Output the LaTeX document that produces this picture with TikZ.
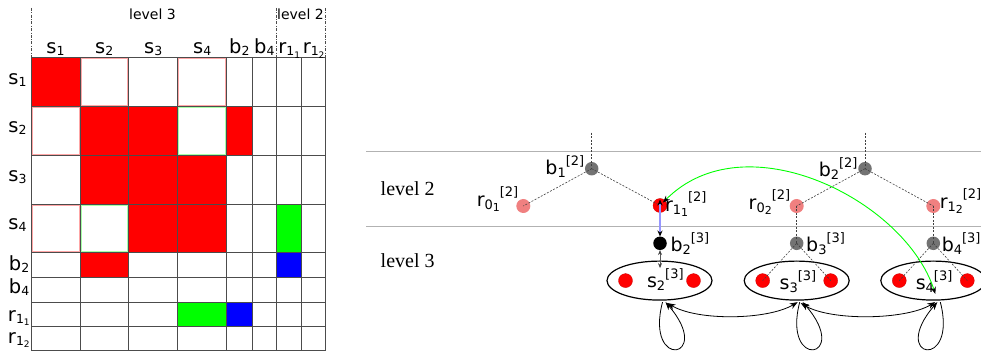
\documentclass[tikz,border=0pt]{standalone}
\usepackage{fontspec}
\setmainfont{DejaVu Sans}
\newfontfamily\serifrm{Liberation Serif}
\usetikzlibrary{arrows.meta,calc,shapes.geometric}
\newcommand\mlab[2]{#1\raisebox{-2pt}{\fontsize{12.5}{12.5}\selectfont #2}}
\newcommand\mlabb[3]{#1\raisebox{-2pt}{\fontsize{12.5}{12.5}\selectfont #2}\raisebox{-4.5pt}{\fontsize{9}{9}\selectfont #3}}
\newcommand\rlab[3]{#1\raisebox{-3.3pt}{\fontsize{13}{13}\selectfont #2}\raisebox{9pt}{\fontsize{13}{13}\selectfont #3}}
\newcommand\rlabb[4]{#1\raisebox{-3pt}{\fontsize{13}{13}\selectfont #2}\raisebox{-5pt}{\fontsize{11}{11}\selectfont #3}\raisebox{10pt}{\fontsize{13}{13}\selectfont #4}}
\definecolor{pinknode}{RGB}{240,128,128}
\definecolor{lblue}{RGB}{150,150,255}
\begin{document}
\begin{tikzpicture}[x=1pt,y=-1pt,
  every node/.style={inner sep=0pt,outer sep=0pt},
  mtxt/.style={font=\fontsize{19.5}{19.5}\selectfont,anchor=base},
  rowl/.style={font=\fontsize{19.5}{19.5}\selectfont,anchor=base west},
  hdr/.style={font=\fontsize{14}{14}\selectfont,anchor=base},
  gridln/.style={draw=black!70,line width=0.8pt},
  ddot/.style={draw=black!70,line width=0.7pt,dash pattern=on 3pt off 1.5pt on 0.7pt off 1.5pt},
  lvl/.style={font=\serifrm\fontsize{20}{20}\selectfont,anchor=base west},
  rl/.style={font=\fontsize{19}{19}\selectfont},
  gnode/.style={circle,fill=black!55,minimum size=13.5pt},
  pnode/.style={circle,fill=pinknode,minimum size=14pt},
  rnode/.style={circle,fill=red,draw=red!80!black,line width=0.3pt,minimum size=14pt},
  knode/.style={circle,fill=black,minimum size=13.5pt},
  ell/.style={ellipse,draw=black,line width=1.2pt,minimum width=105pt,minimum height=39pt},
  dsh/.style={draw=black!75,line width=0.6pt,dash pattern=on 2pt off 1.5pt},
  hl/.style={draw=black!30,line width=0.8pt},
  bkarr/.style={draw=black,line width=0.8pt,{Stealth[length=8pt,width=6pt]}-{Stealth[length=8pt,width=6pt]}},
  lparr/.style={draw=black,line width=0.8pt,-{Stealth[length=8pt,width=6pt]}},
  grarr/.style={draw=green,line width=0.9pt,{Stealth[black,length=7pt,width=5.5pt]}-{Stealth[black,length=7pt,width=5.5pt]}},
  blarr/.style={draw=lblue,line width=1.1pt,{Stealth[black,length=6pt,width=5pt]}-{Stealth[black,length=6pt,width=5pt]}},
  gyarr/.style={draw=black!65,line width=0.7pt,{Stealth[black!75,length=5pt,width=4pt]}-{Stealth[black!75,length=5pt,width=4pt]}}
]
\useasboundingbox (0,0) rectangle (981,352);

% ---------------- matrix ----------------
\fill[red] (31,57.3) rectangle (80,106.7);
\fill[red] (80,106.7) rectangle (177.7,155.3);
\fill[red] (226.7,106.7) rectangle (252,155.3);
\fill[red] (80,155.3) rectangle (226.7,204);
\fill[red] (128.7,204) rectangle (226.7,252.7);
\fill[red] (80,252.7) rectangle (128.7,277.3);
\fill[green] (276.7,204) rectangle (301.7,252.7);
\fill[green] (177.7,302.7) rectangle (226.7,326.7);
\fill[blue] (276.7,252.7) rectangle (301.7,277.3);
\fill[blue] (226.7,302.7) rectangle (252,326.7);
\draw[red!35,line width=0.7pt] (81,58.3) rectangle (127.7,105.7);
\draw[red!35,line width=0.7pt] (178.7,58.3) rectangle (225.7,105.7);
\draw[red!35,line width=0.7pt] (32,107.7) rectangle (79,154.3);
\draw[red!35,line width=0.7pt] (32,205) rectangle (79,251.7);
\draw[green!35,line width=0.7pt] (178.7,107.7) rectangle (225.7,154.3);
\draw[green!35,line width=0.7pt] (81,205) rectangle (127.7,251.7);
\foreach \x in {31,80,128.7,177.7,226.7,252,276.7,301.7,325.5}
  \draw[gridln] (\x,57.3) -- (\x,350.5);
\foreach \y in {57.3,106.7,155.3,204,252.7,277.3,302.7,326.7,350.5}
  \draw[gridln] (31,\y) -- (325.5,\y);
\draw[ddot] (31,8) -- (31,57.3);
\draw[ddot] (276.7,8) -- (276.7,57.3);
\draw[ddot] (325.5,8) -- (325.5,57.3);
\node[hdr] (h3) at (152.5,20) {level 3};
\node[hdr] (h2) at (300.5,20) {level 2};
\node[mtxt] (cs1) at (55.5,54) {\mlab{s}{1}};
\node[mtxt] (cs2) at (104.3,54) {\mlab{s}{2}};
\node[mtxt] (cs3) at (153.2,54) {\mlab{s}{3}};
\node[mtxt] (cs4) at (202.2,54) {\mlab{s}{4}};
\node[mtxt] (cb2) at (239.3,54) {\mlab{b}{2}};
\node[mtxt] (cb4) at (264.3,54) {\mlab{b}{4}};
\node[mtxt] (cr11) at (289.2,54) {\mlabb{r}{1}{1}};
\node[mtxt] (cr12) at (313.6,54) {\mlabb{r}{1}{2}};
\node[rowl] (rs1) at (8.5,85) {\mlab{s}{1}};
\node[rowl] (rs2) at (8.5,133) {\mlab{s}{2}};
\node[rowl] (rs3) at (8.5,181.7) {\mlab{s}{3}};
\node[rowl] (rs4) at (8.5,230) {\mlab{s}{4}};
\node[rowl] (rb2) at (9,270) {\mlab{b}{2}};
\node[rowl] (rb4) at (9,293) {\mlab{b}{4}};
\node[rowl] (rr11) at (8,321) {\mlabb{r}{1}{1}};
\node[rowl] (rr12) at (8,343) {\mlabb{r}{1}{2}};

% ---------------- hierarchy ----------------
\draw[hl] (366,151.7) -- (981,151.7);
\draw[hl] (366,226.7) -- (981,226.7);
\node[lvl] (lv2) at (380.7,196) {level 2};
\node[lvl] (lv3) at (380.7,267.7) {level 3};

\node[gnode] (b1) at (591.7,168.7) {};
\node[pnode] (r01) at (523.3,206) {};
\node[rnode] (r11) at (660,205.5) {};
\node[knode] (b23) at (660,243.3) {};
\node[gnode] (b22) at (865,168.7) {};
\node[pnode] (r02) at (796.7,206) {};
\node[pnode] (r12) at (933.3,206) {};
\node[gnode] (b3) at (796.7,243.3) {};
\node[gnode] (b4) at (933.3,243.3) {};

\node[ell] (s2) at (659.5,280.6) {};
\node[ell] (s3) at (796.7,280.6) {};
\node[ell] (s4) at (933.3,280.6) {};
\node[rnode] (d21) at (625.5,280.6) {};
\node[rnode] (d22) at (693.5,280.6) {};
\node[rnode] (d31) at (762.7,280.6) {};
\node[rnode] (d32) at (830.7,280.6) {};
\node[rnode] (d41) at (899.3,280.6) {};
\node[rnode] (d42) at (967.3,280.6) {};

\coordinate (b1top) at (591.7,132.7);
\coordinate (b22top) at (865,132.7);

\draw[dsh] (b1top) -- (b1.center);
\draw[dsh] (b22top) -- (b22.center);
\draw[dsh] (b1.center) -- (r01.center);
\draw[dsh] (b1.center) -- (r11.center);
\draw[dsh] (b22.center) -- (r02.center);
\draw[dsh] (b22.center) -- (r12.center);
\draw[dsh] (r02.center) -- (b3.center);
\draw[dsh] (r12.center) -- (b4.center);
\draw[dsh] (b3.center) -- (d31.center);
\draw[dsh] (b3.center) -- (d32.center);
\draw[dsh] (b4.center) -- (d41.center);
\draw[dsh] (b4.center) -- (d42.center);

\node[rl,anchor=base east] (lb1) at ($(b1)+(-7.5,6)$) {\rlab{b}{1}{[2]}};
\node[rl,anchor=base east] (lr01) at ($(r01)+(-5,1)$) {\rlabb{r}{0}{1}{[2]}};
\node[rl,anchor=base west] (lr11) at ($(r11)+(5,6)$) {\rlabb{r}{1}{1}{[2]}};
\node[rl,anchor=base west] (lb23) at ($(b23)+(10.5,8.4)$) {\rlab{b}{2}{[3]}};
\node[rl,anchor=base east] (lb22) at ($(b22)+(-7.5,7.5)$) {\rlab{b}{2}{[2]}};
\node[rl,anchor=base east] (lr02) at ($(r02)+(-6.5,4)$) {\rlabb{r}{0}{2}{[2]}};
\node[rl,anchor=base west] (lr12) at ($(r12)+(6.5,2.5)$) {\rlabb{r}{1}{2}{[2]}};
\node[rl,anchor=base west] (lb3) at ($(b3)+(9.5,8.4)$) {\rlab{b}{3}{[3]}};
\node[rl,anchor=base west] (lb4) at ($(b4)+(8.5,8.4)$) {\rlab{b}{4}{[3]}};
\node[rl,anchor=base west] (ls2) at ($(s2)+(-12.5,6.5)$) {\rlab{s}{2}{[3]}};
\node[rl,anchor=base west] (ls3) at ($(s3)+(-17,8.5)$) {\rlab{s}{3}{[3]}};
\node[rl,anchor=base west] (ls4) at ($(s4)+(-17.5,8.5)$) {\rlab{s}{4}{[3]}};

\coordinate (r11tip) at ($(r11.center)+(0,-6)$);
\coordinate (s2in) at ($(s2.center)+(0.5,-12.5)$);
\coordinate (g1) at ($(r11.center)+(3,-3)$);
\coordinate (g2) at ($(s4.center)+(2,13.3)$);
\draw[blarr] (r11tip) -- (b23.north);
\draw[gyarr] (b23.south) -- (s2in);
\draw[grarr] (g1) .. controls (745,120) and (905,200) .. (g2);

\draw[bkarr] ($(s2.south)+(8,3)$) .. controls +(30,18) and +(-30,18) .. ($(s3.south)+(1,2)$);
\draw[bkarr] ($(s3.south)+(4,3)$) .. controls +(30,18) and +(-30,18) .. ($(s4.south)+(2,2)$);
\draw[lparr] ($(s2.south)+(3,2)$) .. controls +(-18,69) and +(49,57) .. ($(s2.south)+(6,2)$);
\draw[lparr] ($(s3.south)+(3,2)$) .. controls +(-18,69) and +(49,57) .. ($(s3.south)+(6,2)$);
\draw[lparr] ($(s4.south)+(7,2)$) .. controls +(18,69) and +(-49,57) .. ($(s4.south)+(4,2)$);
\end{tikzpicture}
\end{document}
